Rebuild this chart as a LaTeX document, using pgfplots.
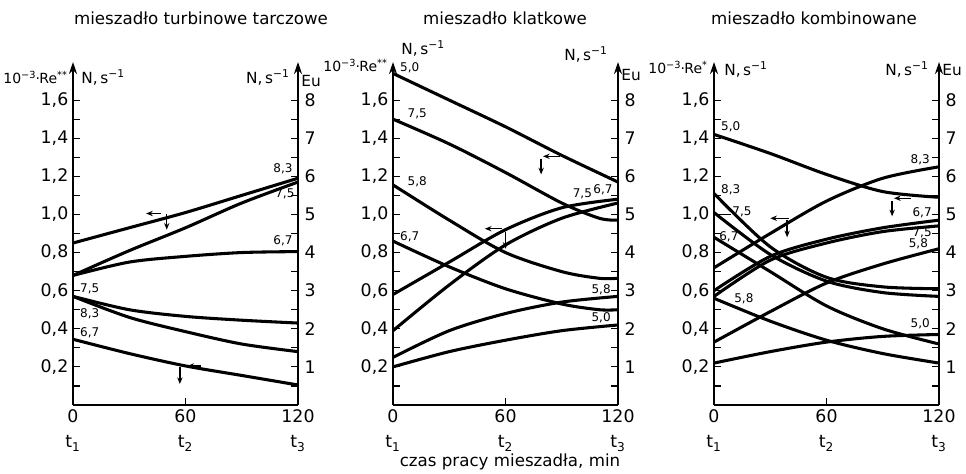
\documentclass[border=0pt]{standalone}
\usepackage{fontspec}
\setmainfont{DejaVu Sans}
\usepackage{pgfplots}
\pgfplotsset{compat=1.18}
\usetikzlibrary{arrows.meta}

\newcommand\tickfont{\fontsize{13}{17}\selectfont}
\newcommand\curvefont{\fontsize{9}{10}\selectfont}
\newcommand\headfont{\fontsize{11.5}{14}\selectfont}
\newcommand\refont{\fontsize{10.5}{13}\selectfont}
\newcommand\titlefont{\fontsize{12.5}{15}\selectfont}

\pgfplotsset{
  panel/.style={
    scale only axis, width=168.75pt, height=257.25pt,
    xmin=0, xmax=120, ymin=0, ymax=1.8,
    clip=false, anchor=south west,
    axis line style={draw=none},
    xtick={0,60,120},
    xticklabels={{0\\[2pt]t\textsubscript{1}},{60\\[2pt]t\textsubscript{2}},{120\\[2pt]t\textsubscript{3}}},
    xticklabel style={align=center, font=\tickfont},
    xtick pos=left,
    ytick={0.2,0.4,0.6,0.8,1.0,1.2,1.4,1.6},
    yticklabels={{0,2},{0,4},{0,6},{0,8},{1,0},{1,2},{1,4},{1,6}},
    minor ytick={0.1,0.3,0.5,0.7,0.9,1.1,1.3,1.5},
    ytick pos=both, yticklabel pos=left,
    yticklabel style={font=\tickfont},
    tick align=inside,
    major tick length=5pt, minor tick length=5pt,
    every tick/.style={black, line width=0.9pt},
  },
  cv/.style={smooth, black, line width=2.3pt, no marks},
}
\tikzset{lab/.style={font=\curvefont, inner sep=1pt}}

% frame, arrows on the two vertical axes, Eu labels on the right
\newcommand\frameaxes{%
  \draw[line width=1.6pt] (axis cs:0,0) -- (axis cs:120,0);
  \draw[line width=1.6pt, -{Stealth[length=9pt,width=6pt]}] (axis cs:0,0) -- (axis cs:0,1.8);
  \draw[line width=1.6pt, -{Stealth[length=9pt,width=6pt]}] (axis cs:120,0) -- (axis cs:120,1.8);
  \node[anchor=west, font=\tickfont] at (axis cs:121,0.2) {1};
  \node[anchor=west, font=\tickfont] at (axis cs:121,0.4) {2};
  \node[anchor=west, font=\tickfont] at (axis cs:121,0.6) {3};
  \node[anchor=west, font=\tickfont] at (axis cs:121,0.8) {4};
  \node[anchor=west, font=\tickfont] at (axis cs:121,1.0) {5};
  \node[anchor=west, font=\tickfont] at (axis cs:121,1.2) {6};
  \node[anchor=west, font=\tickfont] at (axis cs:121,1.4) {7};
  \node[anchor=west, font=\tickfont] at (axis cs:121,1.6) {8};
}
\newcommand\ReLab[1]{10\textsuperscript{−3}\kern-0.5pt·\kern-0.5pt Re\textsuperscript{#1}}
\newcommand\Ns{N,\,s\textsuperscript{−1}}
\newcommand\harr[3]{\draw[line width=1.1pt, -{Stealth[length=5pt,width=4pt]}] (axis cs:#2,#1) -- (axis cs:#3,#1);}
\newcommand\varr[3]{\draw[line width=1.1pt, -{Stealth[length=5pt,width=4pt]}] (axis cs:#1,#2) -- (axis cs:#1,#3);}

\begin{document}
\begin{tikzpicture}
\path[use as bounding box] (0,0) rectangle (724.5pt,355.5pt);

% ---- mieszadlo turbinowe tarczowe
\begin{axis}[panel, at={(54.75pt,51.75pt)}]
\addplot[cv] coordinates {(0,0.85) (30,0.93) (60,1.01) (90,1.10) (120,1.19)};
\addplot[cv] coordinates {(0,0.68) (30,0.81) (60,0.93) (90,1.06) (120,1.17)};
\addplot[cv] coordinates {(0,0.68) (30,0.75) (60,0.78) (90,0.80) (120,0.805)};
\addplot[cv] coordinates {(0,0.57) (30,0.50) (60,0.465) (90,0.445) (120,0.43)};
\addplot[cv] coordinates {(0,0.57) (30,0.46) (60,0.385) (90,0.32) (120,0.28)};
\addplot[cv] coordinates {(0,0.345) (30,0.27) (60,0.205) (90,0.155) (120,0.105)};
\frameaxes
\node[lab] at (axis cs:112,1.24) {8,3};
\node[lab] at (axis cs:113,1.11) {7,5};
\node[lab] at (axis cs:112,0.86) {6,7};
\node[lab, anchor=west] at (axis cs:3,0.61) {7,5};
\node[lab, anchor=west] at (axis cs:3,0.48) {8,3};
\node[lab, anchor=west] at (axis cs:3,0.38) {6,7};
\harr{1.005}{47}{39}
\varr{50}{1.0}{0.92}
\harr{0.205}{68}{61}
\varr{57}{0.2}{0.11}
\node[anchor=east, font=\refont, inner sep=1pt] at (axis cs:-2,1.72) {\ReLab{**}};
\node[anchor=west, font=\headfont] at (axis cs:2,1.72) {\Ns};
\node[anchor=east, font=\headfont] at (axis cs:118,1.72) {\Ns};
\node[anchor=west, font=\headfont, inner sep=1pt] at (axis cs:121,1.70) {Eu};
\end{axis}

% ---- mieszadlo klatkowe
\begin{axis}[panel, at={(294.75pt,51.75pt)}]
\addplot[cv] coordinates {(0,1.74) (30,1.60) (60,1.46) (90,1.31) (120,1.17)};
\addplot[cv] coordinates {(0,1.50) (30,1.37) (60,1.22) (90,1.06) (110,0.98) (120,0.97)};
\addplot[cv] coordinates {(0,1.155) (30,0.97) (60,0.80) (90,0.70) (110,0.665) (120,0.665)};
\addplot[cv] coordinates {(0,0.86) (30,0.725) (60,0.61) (90,0.53) (110,0.50) (120,0.50)};
\addplot[cv] coordinates {(0,0.58) (30,0.75) (60,0.92) (90,1.035) (120,1.08)};
\addplot[cv] coordinates {(0,0.39) (30,0.63) (60,0.84) (90,0.98) (120,1.06)};
\addplot[cv] coordinates {(0,0.25) (30,0.39) (60,0.48) (90,0.54) (120,0.57)};
\addplot[cv] coordinates {(0,0.20) (30,0.28) (60,0.34) (90,0.39) (120,0.42)};
\frameaxes
\node[lab, anchor=west] at (axis cs:3,1.77) {5,0};
\node[lab, anchor=west] at (axis cs:7,1.53) {7,5};
\node[lab, anchor=west] at (axis cs:7,1.17) {5,8};
\node[lab, anchor=west] at (axis cs:3,0.885) {6,7};
\node[lab] at (axis cs:101,1.11) {7,5};
\node[lab] at (axis cs:112,1.13) {6,7};
\node[lab] at (axis cs:111,0.605) {5,8};
\node[lab] at (axis cs:111,0.46) {5,0};
\harr{1.305}{89}{80}
\varr{79}{1.29}{1.21}
\harr{0.925}{58}{49}
\varr{60}{0.91}{0.82}
\node[anchor=east, font=\refont, inner sep=1pt] at (axis cs:-2,1.78) {\ReLab{**}};
\node[anchor=west, font=\headfont] at (axis cs:2,1.87) {\Ns};
\node[anchor=east, font=\headfont] at (axis cs:117,1.84) {\Ns};
\node[anchor=west, font=\headfont, inner sep=1pt] at (axis cs:121,1.73) {Eu};
\end{axis}

% ---- mieszadlo kombinowane
\begin{axis}[panel, at={(535.5pt,51.75pt)}]
\addplot[cv] coordinates {(0,1.42) (30,1.32) (60,1.21) (90,1.12) (120,1.09)};
\addplot[cv] coordinates {(0,1.11) (30,0.83) (60,0.67) (90,0.62) (120,0.61)};
\addplot[cv] coordinates {(0,1.01) (30,0.79) (60,0.65) (90,0.59) (120,0.57)};
\addplot[cv] coordinates {(0,0.88) (30,0.70) (60,0.52) (90,0.40) (120,0.32)};
\addplot[cv] coordinates {(0,0.56) (30,0.44) (60,0.34) (90,0.27) (120,0.22)};
\addplot[cv] coordinates {(0,0.72) (30,0.90) (60,1.07) (90,1.19) (120,1.25)};
\addplot[cv] coordinates {(0,0.60) (30,0.78) (60,0.87) (90,0.93) (120,0.97)};
\addplot[cv] coordinates {(0,0.57) (30,0.76) (60,0.85) (90,0.91) (120,0.94)};
\addplot[cv] coordinates {(0,0.33) (30,0.49) (60,0.64) (90,0.74) (120,0.82)};
\addplot[cv] coordinates {(0,0.22) (30,0.28) (60,0.33) (90,0.36) (120,0.37)};
\frameaxes
\node[lab, anchor=west] at (axis cs:3,1.46) {5,0};
\node[lab, anchor=west] at (axis cs:3,1.13) {8,3};
\draw[line width=0.8pt] (axis cs:0,1.0) -- (axis cs:9,1.0);
\node[lab, anchor=west] at (axis cs:9,1.015) {7,5};
\node[lab, anchor=west] at (axis cs:2,0.885) {6,7};
\node[lab, anchor=west] at (axis cs:10,0.555) {5,8};
\node[lab] at (axis cs:110,1.285) {8,3};
\node[lab] at (axis cs:111,1.01) {6,7};
\node[lab] at (axis cs:111,0.905) {7,5};
\node[lab] at (axis cs:109,0.845) {5,8};
\node[lab] at (axis cs:110,0.425) {5,0};
\harr{0.98}{40}{30}
\varr{39}{0.97}{0.88}
\harr{1.085}{105}{96}
\varr{95}{1.07}{0.99}
\node[anchor=east, font=\refont, inner sep=1pt] at (axis cs:-2.5,1.77) {\ReLab{*}};
\node[anchor=west, font=\headfont] at (axis cs:3,1.76) {\Ns};
\node[anchor=east, font=\headfont] at (axis cs:117,1.76) {\Ns};
\node[anchor=west, font=\headfont, inner sep=1pt] at (axis cs:121,1.76) {Eu};
\end{axis}

\node[font=\titlefont] at (150.75pt,342pt) {mieszadło turbinowe tarczowe};
\node[font=\titlefont] at (378.75pt,342pt) {mieszadło klatkowe};
\node[font=\titlefont] at (610.5pt,342pt) {mieszadło kombinowane};
\node[font=\fontsize{12.5}{14}\selectfont] at (382.5pt,9pt) {czas pracy mieszadła, min};
\end{tikzpicture}
\end{document}
